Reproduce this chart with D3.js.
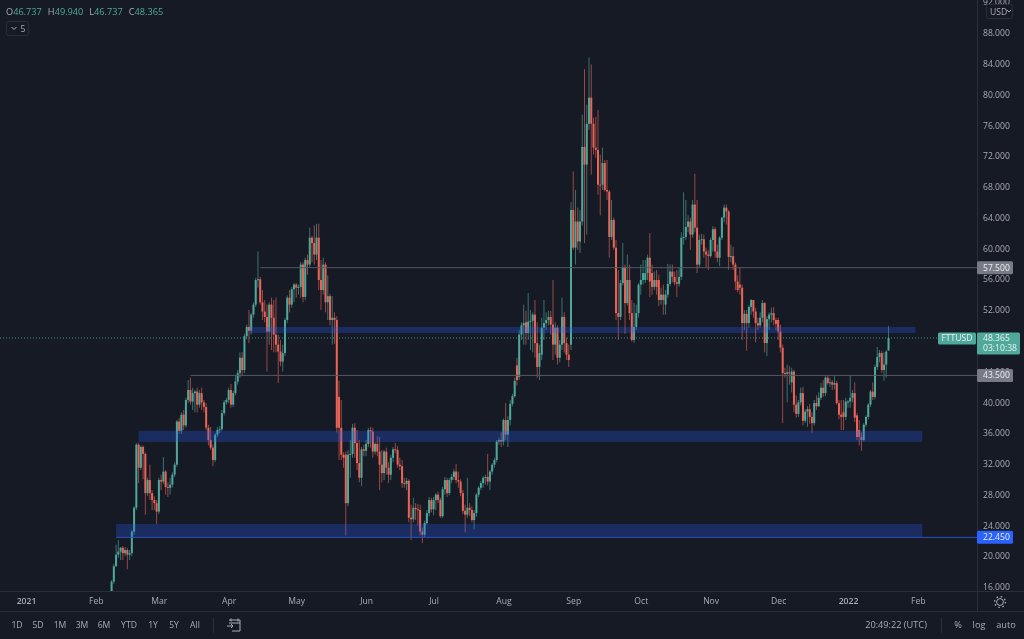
<!DOCTYPE html>
<html>
<head>
<meta charset="utf-8">
<script src="https://d3js.org/d3.v7.min.js"></script>
<style>
  html, body { margin: 0; padding: 0; background: #161a25; }
  svg { display: block; filter: blur(0.25px); }
  text { font-family: "Open Sans", "Noto Sans", sans-serif; font-size: 8.6px; fill: #a9acb5; }
</style>
</head>
<body>
<div id="graph"></div>
<script>
// Daily FTTUSD candles, first one is 8 Feb 2021
const firstDay = new Date(Date.UTC(2021, 1, 8))

const opens = [
  14.9,16.7,18.7,20.2,20.6,21.1,20.4,20.8,20.2,20.4,
  23.2,26.3,34.5,31.5,34.2,33.3,28.2,29.9,28.2,27.3,
  26.9,25.8,29.9,29.7,31.0,29.0,28.9,29.3,30.6,31.9,
  37.5,36.3,38.4,37.0,40.3,41.6,40.1,41.2,41.4,39.7,
  41.2,40.0,39.4,36.7,35.1,34.1,32.5,35.8,36.4,36.5,
  38.6,40.0,40.3,41.6,39.7,41.2,42.7,43.8,45.8,44.2,
  48.6,49.8,49.3,51.4,52.7,55.9,56.0,53.0,51.8,51.1,
  49.2,52.7,51.0,48.8,47.5,46.6,45.3,46.4,50.7,53.6,
  52.7,54.7,55.3,54.9,55.0,57.9,53.7,58.5,57.9,61.4,
  60.7,59.2,61.4,55.9,54.6,57.9,53.0,53.8,50.7,51.0,
  50.7,40.7,36.7,33.2,33.2,26.9,33.2,33.3,36.7,34.7,
  32.1,30.2,33.9,33.7,34.6,36.4,36.2,33.6,34.6,33.6,
  31.9,30.8,33.6,31.5,30.6,32.8,33.9,33.8,31.9,31.7,
  29.5,29.4,29.8,25.0,24.8,26.3,26.1,26.0,23.2,22.8,
  24.3,25.6,27.3,26.1,27.3,28.0,27.3,25.2,28.7,29.9,
  28.2,29.9,30.3,31.0,29.9,29.7,28.2,25.9,25.4,26.3,
  26.0,24.7,25.6,28.0,28.9,29.5,30.2,30.3,29.7,31.0,
  31.9,32.5,34.9,35.1,34.9,37.7,35.8,37.7,39.8,40.8,
  44.8,43.3,48.8,50.0,50.4,49.0,50.5,50.6,51.4,47.7,
  44.6,46.2,49.7,50.3,50.7,51.1,50.1,47.5,49.7,45.8,
  47.5,51.1,47.7,46.2,47.5,65.0,60.1,63.5,60.9,63.5,
  73.2,70.9,76.2,79.6,76.2,73.1,72.8,68.3,68.3,71.1,
  67.6,67.4,61.5,63.7,60.1,51.6,51.1,55.5,57.6,52.9,
  55.9,51.6,48.1,49.8,51.6,55.3,55.9,55.9,56.8,58.8,
  56.8,55.0,55.9,55.9,53.3,54.0,52.7,54.0,55.4,57.0,
  56.3,55.6,55.4,56.3,61.4,61.5,62.8,63.5,61.8,65.7,
  62.7,57.9,61.1,61.2,59.6,59.2,59.0,61.1,62.5,59.6,
  58.8,61.4,64.0,65.3,64.8,58.9,59.0,57.9,55.7,55.3,
  54.9,50.3,51.5,50.3,52.4,53.3,51.8,50.3,50.0,51.0,
  52.9,47.7,50.8,51.4,51.6,50.7,50.7,49.2,47.1,43.8,
  43.7,43.9,42.6,44.0,39.7,38.5,40.0,41.2,37.6,38.8,
  39.1,38.1,37.3,39.9,39.5,40.6,41.9,41.2,43.2,42.5,
  42.6,42.3,42.5,39.9,38.4,38.7,38.1,40.1,40.1,40.6,
  41.2,38.3,36.4,35.5,35.1,37.1,38.1,39.7,41.4,40.7,
  44.6,45.9,46.4,44.2,44.9,46.737
]

const highs = [
  16.9,19.0,21.5,22.1,21.2,21.3,21.2,21.1,20.8,23.4,
  26.5,34.7,34.7,34.4,34.4,33.5,30.2,31.9,28.6,27.8,
  27.3,30.2,30.6,32.9,31.2,29.6,30.2,30.9,32.2,37.7,
  38.0,38.7,39.0,40.6,42.9,43.2,41.9,41.6,41.9,41.6,
  41.9,40.3,39.9,37.1,36.8,34.5,36.0,36.8,36.9,39.0,
  40.3,40.6,41.9,42.4,41.5,43.5,44.2,46.5,46.5,48.9,
  50.1,52.0,51.6,53.0,56.2,59.6,56.3,54.6,53.3,52.7,
  53.0,53.6,53.3,53.6,48.8,48.1,47.5,51.0,53.9,54.6,
  55.0,55.5,55.5,55.3,58.2,58.2,58.8,59.2,62.7,61.6,
  63.0,63.2,63.2,58.5,58.8,58.2,56.5,54.1,53.8,51.7,
  51.2,42.8,40.3,33.5,33.6,33.8,35.1,37.2,37.3,36.4,
  35.1,34.2,34.5,35.1,36.7,36.8,36.7,34.8,35.6,35.5,
  33.8,33.8,34.1,32.2,33.2,34.2,34.7,34.3,32.8,32.5,
  30.2,30.2,30.0,26.7,27.6,26.9,26.8,26.7,23.7,24.6,
  26.0,27.7,27.6,27.7,28.2,28.4,27.6,29.0,30.3,30.2,
  30.2,30.7,31.3,32.0,31.0,30.0,28.6,26.7,30.2,26.9,
  26.5,26.0,28.2,29.1,29.8,30.4,30.6,33.3,31.2,32.1,
  32.8,35.1,35.4,36.1,37.9,39.9,38.2,40.3,41.1,43.2,
  45.8,49.4,50.4,52.7,51.9,54.2,52.0,51.7,53.3,50.4,
  47.5,51.0,53.3,51.7,51.9,51.9,55.9,50.4,50.0,48.1,
  53.6,51.7,48.4,47.5,66.0,70.0,67.6,65.3,65.0,77.4,
  83.3,78.7,84.8,83.9,77.0,77.1,78.0,72.2,73.1,71.5,
  71.5,67.6,66.3,64.0,61.1,57.2,55.9,60.7,57.9,59.2,
  57.9,53.3,52.9,52.7,55.5,57.9,58.5,58.5,59.2,62.0,
  57.9,57.0,57.2,56.6,54.9,55.3,54.6,58.0,57.9,57.9,
  57.0,57.2,57.5,62.1,67.3,66.3,64.3,64.0,66.3,69.7,
  66.3,61.8,61.9,61.8,60.1,59.8,61.4,62.9,62.8,60.5,
  61.6,64.1,65.7,65.7,65.0,60.5,60.2,58.2,56.5,57.5,
  55.3,52.0,52.0,52.6,53.4,53.3,52.3,51.0,51.7,53.3,
  53.0,51.2,51.7,52.3,52.4,51.0,51.0,50.1,47.5,44.5,
  44.9,44.7,44.5,44.2,40.9,40.3,41.9,42.0,39.1,39.5,
  39.8,38.7,40.3,40.9,41.3,42.5,42.9,43.4,43.5,43.2,
  42.9,43.5,42.8,40.3,40.3,40.3,40.6,40.3,43.5,41.6,
  42.6,38.6,37.7,36.1,37.3,38.3,39.9,41.6,42.6,44.9,
  47.2,46.8,46.7,46.5,46.8,49.94
]

const lows = [
  14.3,16.4,18.6,19.8,19.5,19.5,20.0,18.3,19.5,20.0,
  22.8,26.0,29.5,31.2,30.0,25.4,27.8,27.3,26.0,26.0,
  24.2,25.5,28.6,29.4,28.0,27.7,28.0,28.9,30.3,31.6,
  35.9,35.9,36.4,36.7,39.9,39.7,39.0,38.7,38.7,39.3,
  39.0,38.7,36.4,34.4,33.8,31.7,32.2,35.5,36.0,36.3,
  38.3,39.7,39.9,39.3,39.4,40.9,42.3,43.2,43.4,43.8,
  48.2,47.7,48.8,51.0,52.4,54.9,52.7,50.7,50.4,44.0,
  47.5,46.8,46.5,46.5,42.5,44.7,44.0,46.0,50.3,51.7,
  52.3,53.0,53.6,54.0,53.6,53.0,53.3,56.6,57.5,58.2,
  57.9,58.5,54.6,52.0,54.0,51.7,50.7,50.0,47.5,47.6,
  36.1,32.5,32.5,31.5,22.7,26.5,30.2,32.8,32.8,31.2,
  29.6,29.1,33.0,33.0,34.2,34.1,32.8,33.2,33.0,28.6,
  29.6,29.9,30.6,29.5,29.9,32.2,33.4,31.5,31.2,28.9,
  28.9,28.6,24.4,22.1,24.4,24.7,24.0,22.7,21.7,22.5,
  24.1,25.2,25.7,25.3,26.0,26.9,25.0,25.0,28.0,27.7,
  27.9,29.5,29.9,29.5,28.9,27.8,25.5,23.1,25.0,25.2,
  24.4,23.5,25.1,27.7,28.6,28.9,29.3,29.2,28.6,30.6,
  31.5,32.2,34.5,34.2,34.4,35.1,34.2,37.0,39.5,40.6,
  42.2,42.9,48.1,47.5,47.5,48.1,46.8,46.5,45.8,43.2,
  42.9,45.5,48.1,49.4,50.0,48.8,45.5,46.2,44.9,45.2,
  46.8,46.5,45.5,44.6,46.8,59.8,57.9,59.8,59.4,63.0,
  60.7,61.8,75.4,69.6,72.2,71.8,67.0,64.3,67.6,67.4,
  66.3,58.8,61.1,59.8,50.7,48.1,50.7,55.2,48.9,52.6,
  50.7,47.9,47.7,49.4,51.0,54.0,55.3,55.5,55.9,53.7,
  54.0,54.6,54.0,52.5,52.7,51.4,51.4,53.6,55.1,55.6,
  55.2,53.7,55.0,55.9,60.5,61.1,62.1,59.8,61.4,62.1,
  56.8,57.5,60.5,58.8,57.5,57.2,58.8,59.6,58.8,58.2,
  57.7,61.1,63.4,63.1,57.2,58.2,57.2,54.6,54.3,54.0,
  48.1,49.4,46.7,49.7,51.4,51.0,47.8,49.4,49.7,50.4,
  46.5,46.0,49.4,50.4,50.0,49.4,48.1,46.5,37.3,43.2,
  40.0,42.3,41.3,38.7,38.0,38.1,39.6,37.0,37.3,36.8,
  37.2,36.0,37.0,39.0,39.4,40.3,40.7,40.8,42.3,42.0,
  41.6,41.7,39.7,37.8,36.4,36.4,37.7,39.3,39.3,40.0,
  37.4,35.1,34.4,33.7,34.9,36.8,37.8,39.4,40.3,40.4,
  44.2,45.2,43.8,42.8,43.2,46.737
]

const closes = [
  16.7,18.7,20.2,20.6,21.1,20.4,20.8,20.2,20.4,23.2,
  26.3,34.5,31.5,34.2,33.3,28.2,29.9,28.2,27.3,26.9,
  25.8,29.9,29.7,31.0,29.0,28.9,29.3,30.6,31.9,37.5,
  36.3,38.4,37.0,40.3,41.6,40.1,41.2,41.4,39.7,41.2,
  40.0,39.4,36.7,35.1,34.1,32.5,35.8,36.4,36.5,38.6,
  40.0,40.3,41.6,39.7,41.2,42.7,43.8,45.8,44.2,48.6,
  49.8,49.3,51.4,52.7,55.9,56.0,53.0,51.8,51.1,49.2,
  52.7,51.0,48.8,47.5,46.6,45.3,46.4,50.7,53.6,52.7,
  54.7,55.3,54.9,55.0,57.9,53.7,58.5,57.9,61.4,60.7,
  59.2,61.4,55.9,54.6,57.9,53.0,53.8,50.7,51.0,50.7,
  36.7,36.7,33.2,32.8,26.9,33.2,33.3,36.7,34.7,32.1,
  30.2,33.9,33.7,34.6,36.4,36.2,33.6,34.6,33.6,31.9,
  30.8,33.6,31.5,30.6,32.8,33.9,33.8,31.9,31.7,29.5,
  29.4,29.8,25.0,24.8,26.3,26.1,26.0,23.2,22.8,24.3,
  25.6,27.3,26.1,27.3,28.0,27.3,25.2,28.7,29.9,28.2,
  29.9,30.3,31.0,29.9,29.7,28.2,25.9,25.4,26.3,26.0,
  24.7,25.6,28.0,28.9,29.5,30.2,30.3,29.7,31.0,31.9,
  32.5,34.9,35.1,34.9,37.7,35.8,37.7,39.8,40.8,42.8,
  42.9,48.8,50.0,50.3,49.0,50.5,50.6,51.4,47.7,44.6,
  46.4,49.7,50.3,50.7,51.1,50.1,47.5,49.7,45.8,47.5,
  51.1,47.7,46.2,45.5,65.0,60.1,63.5,60.9,63.5,73.2,
  70.9,76.2,79.6,76.2,73.1,72.8,68.3,68.2,71.1,67.6,
  67.4,61.5,63.7,60.1,51.6,51.1,55.5,57.6,52.9,55.9,
  51.6,48.1,49.8,51.6,55.3,55.9,56.8,56.8,58.8,55.7,
  55.0,55.9,55.0,53.3,54.0,53.3,54.0,55.4,57.0,56.3,
  55.6,55.4,56.3,61.4,61.5,62.8,63.5,61.8,65.7,62.7,
  57.9,61.1,61.2,59.6,59.2,59.0,61.1,62.5,59.6,58.8,
  61.4,64.0,65.3,64.8,58.9,59.0,57.9,55.7,54.6,54.9,
  50.3,51.5,50.3,52.4,53.3,51.8,50.3,50.0,51.0,52.9,
  47.7,50.8,51.4,51.6,50.7,50.2,49.2,47.1,43.8,43.7,
  43.9,43.8,44.0,39.7,38.5,40.0,41.2,37.6,38.8,39.1,
  38.1,37.3,39.9,39.5,40.6,41.9,41.2,43.2,42.5,42.6,
  42.3,42.5,39.9,38.4,38.1,38.1,40.1,40.1,40.6,41.2,
  38.0,35.5,35.5,35.1,37.1,38.1,39.7,41.4,40.7,44.6,
  45.9,46.4,44.2,44.9,46.6,48.365
]

// Price axis and time axis ticks
const priceTicks = [16,20,24,28,32,36,40,44,48,52,56,60,64,68,72,76,80,84,88,92]
const monthDates = ['2021-01-01','2021-02-01','2021-03-01','2021-04-01','2021-05-01','2021-06-01',
  '2021-07-01','2021-08-01','2021-09-01','2021-10-01','2021-11-01','2021-12-01','2022-01-01','2022-02-01']
const monthLabels = ['2021','Feb','Mar','Apr','May','Jun','Jul','Aug','Sep','Oct','Nov','Dec','2022','Feb']

// Blue supply/demand boxes
const zoneTops = [24.2, 36.3, 49.8]
const zoneBottoms = [22.45, 34.85, 49.0]
const zoneStarts = ['2021-02-10', '2021-02-20', '2021-04-10']
const zoneEnds = ['2022-02-03', '2022-02-03', '2022-01-31']

// Grey horizontal levels
const levelPrices = [57.5, 43.5]
const levelStarts = ['2021-04-15', '2021-03-15']

const lastPrice = 48.365
const supportPrice = 22.45
const supportStart = '2021-02-10'

const headerNames = ['O', 'H', 'L', 'C']
const headerValues = ['46.737', '49.940', '46.737', '48.365']
const rangeButtons = ['1D', '5D', '1M', '3M', '6M', 'YTD', '1Y', '5Y', 'All']

const width = 1024, height = 639
const plotRight = 977, plotBottom = 591, axisBottom = 611

const up = '#4fa99b', down = '#ec6455', bg = '#161a25', sep = '#2a2e39'

const svg = d3.select('#graph').append('svg')
  .attr('width', width)
  .attr('height', height)

svg.append('rect').attr('width', width).attr('height', height).attr('fill', bg)

svg.append('defs').append('clipPath').attr('id', 'plot')
  .append('rect').attr('width', plotRight).attr('height', plotBottom)

const x = d3.scaleUtc()
  .domain([new Date('2021-01-01'), new Date('2022-02-01')])
  .range([26, 917.8])
const y = d3.scaleLinear().domain([16, 88]).range([587, 33])

const candles = closes.map((c, i) => ({
  date: d3.utcDay.offset(firstDay, i), open: opens[i], high: highs[i], low: lows[i], close: c
}))
const plot = svg.append('g').attr('clip-path', 'url(#plot)')

// Wicks first, they come out dim in the screenshot
plot.append('g').selectAll('line').data(candles).join('line')
  .attr('x1', d => x(d.date))
  .attr('x2', d => x(d.date))
  .attr('y1', d => y(d.high))
  .attr('y2', d => y(d.low))
  .attr('stroke', d => d.close >= d.open ? up : down)
  .attr('stroke-opacity', 0.62)
  .attr('stroke-width', 1)

plot.append('g').selectAll('rect').data(candles).join('rect')
  .attr('x', d => x(d.date) - 1)
  .attr('width', 2)
  .attr('y', d => y(Math.max(d.open, d.close)))
  .attr('height', d => Math.max(1, Math.abs(y(d.open) - y(d.close))))
  .attr('fill', d => d.close >= d.open ? up : down)

// Boxes sit over the candles with a see-through fill
plot.append('g').selectAll('rect').data(zoneTops).join('rect')
  .attr('x', (d, i) => x(new Date(zoneStarts[i])))
  .attr('width', (d, i) => x(new Date(zoneEnds[i])) - x(new Date(zoneStarts[i])))
  .attr('y', d => y(d))
  .attr('height', (d, i) => y(zoneBottoms[i]) - y(d))
  .attr('fill', '#2962ff')
  .attr('fill-opacity', 0.27)

plot.append('g').selectAll('line').data(levelPrices).join('line')
  .attr('x1', (d, i) => x(new Date(levelStarts[i])))
  .attr('x2', plotRight)
  .attr('y1', d => y(d))
  .attr('y2', d => y(d))
  .attr('stroke', '#555863')
  .attr('stroke-width', 1)

plot.append('line')
  .attr('x1', x(new Date(supportStart)))
  .attr('x2', plotRight)
  .attr('y1', y(supportPrice))
  .attr('y2', y(supportPrice))
  .attr('stroke', '#2a52c0')
  .attr('stroke-width', 1)

plot.append('line')
  .attr('x1', 0)
  .attr('x2', plotRight)
  .attr('y1', y(lastPrice))
  .attr('y2', y(lastPrice))
  .attr('stroke', up)
  .attr('stroke-opacity', 0.8)
  .attr('stroke-dasharray', '1 2')

// Panel separators
function sepLine(x1, y1, x2, y2) {
  svg.append('line').attr('x1', x1).attr('y1', y1).attr('x2', x2).attr('y2', y2)
    .attr('stroke', sep).attr('stroke-width', 1)
}
sepLine(plotRight + 0.5, 0, plotRight + 0.5, axisBottom)
sepLine(0, plotBottom + 0.5, width, plotBottom + 0.5)
sepLine(0, axisBottom + 0.5, width, axisBottom + 0.5)
sepLine(213.5, 618, 213.5, 633)
sepLine(941.5, 618, 941.5, 633)

// Axes
const yAxis = svg.append('g')
  .attr('transform', 'translate(' + (plotRight + 6) + ',0)')
  .call(d3.axisRight(y).tickValues(priceTicks).tickSize(0).tickPadding(0).tickFormat(d3.format('.3f')))
yAxis.select('.domain').remove()

const xAxis = svg.append('g')
  .attr('transform', 'translate(0,' + (plotBottom + 7) + ')')
  .call(d3.axisBottom(x).tickValues(monthDates.map(d => new Date(d))).tickSize(0).tickPadding(0)
    .tickFormat((d, i) => monthLabels[i]))
xAxis.select('.domain').remove()
svg.selectAll('.tick text').attr('font-family', null).attr('font-size', null)
xAxis.selectAll('.tick text').filter((d, i) => i === 0 || i === 12).style('font-weight', 600)

// Price tags on the right axis
function tag(price, fill, w, label) {
  const yy = y(price)
  svg.append('rect').attr('x', plotRight).attr('y', yy - 6.5).attr('width', w).attr('height', 13)
    .attr('rx', 1.5).attr('fill', fill)
  svg.append('text').attr('x', plotRight + 6).attr('y', yy + 3).style('fill', '#eceef2').text(label)
}
tag(levelPrices[0], '#787b86', 36, '57.500')
tag(levelPrices[1], '#787b86', 36, '43.500')
tag(supportPrice, '#2962ff', 36, '22.450')

const lastY = y(lastPrice)
svg.append('rect').attr('x', 938).attr('y', lastY - 5.5).attr('width', 38).attr('height', 12).attr('rx', 1.5).attr('fill', up)
svg.append('text').attr('x', 957).attr('y', lastY + 3.5).attr('text-anchor', 'middle').style('fill', '#eceef2').text('FTTUSD')
svg.append('rect').attr('x', plotRight).attr('y', lastY - 5.5).attr('width', 43).attr('height', 22).attr('rx', 1.5).attr('fill', up)
svg.append('text').attr('x', plotRight + 6).attr('y', lastY + 3.5).style('fill', '#eceef2').text('48.365')
svg.append('text').attr('x', plotRight + 6).attr('y', lastY + 13.5).style('fill', '#eceef2').text('03:10:38')

// OHLC legend top left
const legend = svg.append('text').attr('x', 6).attr('y', 14.5).style('font-size', '9.2px')
headerNames.forEach((name, i) => {
  legend.append('tspan').text(name).attr('dx', i ? 6 : 0)
  legend.append('tspan').text(headerValues[i]).style('fill', up)
})

// Collapsed indicators button
svg.append('rect').attr('x', 6.5).attr('y', 21.5).attr('width', 22).attr('height', 14).attr('rx', 2)
  .attr('fill', 'none').attr('stroke', sep)
svg.append('path').attr('d', 'M11.5 27 l2.5 2.5 l2.5 -2.5').attr('fill', 'none').attr('stroke', '#a9acb5')
svg.append('text').attr('x', 20.5).attr('y', 31.5).text('5')

// Currency button
svg.append('rect').attr('x', 986.5).attr('y', 4.5).attr('width', 26).attr('height', 14).attr('rx', 2)
  .attr('fill', bg).attr('stroke', sep)
svg.append('text').attr('x', 990).attr('y', 14.5).text('USD')
svg.append('path').attr('d', 'M1007 10 l2 2 l2 -2').attr('fill', 'none').attr('stroke', '#a9acb5')

// Settings gear
svg.append('circle').attr('cx', 1000).attr('cy', 602).attr('r', 3.4).attr('fill', 'none').attr('stroke', '#a9acb5')
svg.append('circle').attr('cx', 1000).attr('cy', 602).attr('r', 5.4).attr('fill', 'none')
  .attr('stroke', '#a9acb5').attr('stroke-width', 1.4).attr('stroke-dasharray', '1.5 2.74')

// Bottom toolbar
const buttonX = [17, 38, 60, 82, 104, 129, 153, 174, 195]
svg.append('g').selectAll('text').data(rangeButtons).join('text')
  .attr('x', (d, i) => buttonX[i])
  .attr('y', 628)
  .attr('text-anchor', 'middle')
  .text(d => d)

svg.append('path')
  .attr('d', 'M229 620 h11 v11 h-8 M227 626 h6 m-2 -2 l2 2 l-2 2 M229 623 h11 M231 618.5 v3 M238 618.5 v3')
  .attr('fill', 'none').attr('stroke', '#a9acb5')

svg.append('text').attr('x', 896).attr('y', 628).attr('text-anchor', 'middle').style('font-size', '9.2px').text('20:49:22 (UTC)')
svg.append('text').attr('x', 958).attr('y', 628).attr('text-anchor', 'middle').style('font-size', '9.2px').text('%')
svg.append('text').attr('x', 979).attr('y', 628).attr('text-anchor', 'middle').style('font-size', '9.2px').text('log')
svg.append('text').attr('x', 1006).attr('y', 628).attr('text-anchor', 'middle').style('font-size', '9.2px').text('auto')
</script>
</body>
</html>
